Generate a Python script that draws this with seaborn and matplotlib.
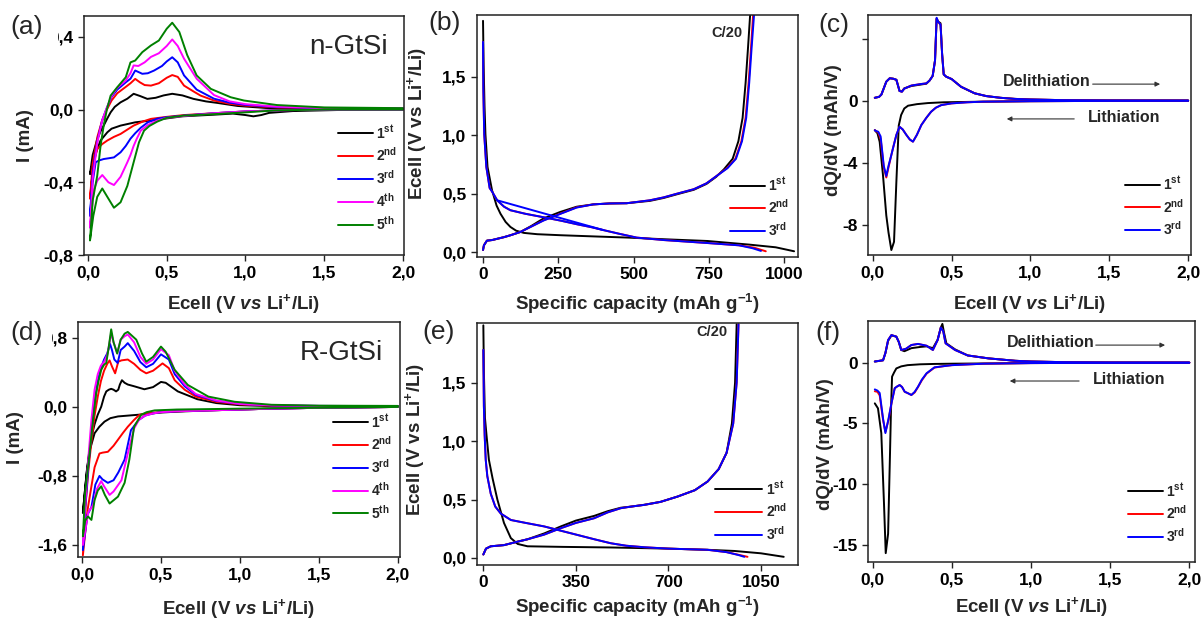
import matplotlib
matplotlib.use("Agg")
import matplotlib.pyplot as plt
from matplotlib.lines import Line2D
import seaborn as sns

# ---------------- data ----------------
# (a) CV n-GtSi : potential (V) and current (mA); cathodic scan then anodic scan
a1_v = [2.0, 1.6, 1.3, 1.15, 1.1, 1.05, 1.0, 0.92, 0.8, 0.6, 0.4, 0.3, 0.207, 0.15, 0.123, 0.08, 0.059, 0.035, 0.013,
        0.03, 0.06, 0.08, 0.10, 0.122, 0.144, 0.17, 0.207, 0.25, 0.29, 0.33, 0.377, 0.43, 0.48, 0.535, 0.6, 0.67, 0.75, 0.82, 0.95, 1.13, 1.4, 1.7, 2.0]
a1_i = [0.0, -0.002, -0.008, -0.018, -0.03, -0.037, -0.03, -0.022, -0.028, -0.037, -0.06, -0.07, -0.088, -0.105, -0.125, -0.17, -0.217, -0.28, -0.355,
        -0.25, -0.16, -0.12, -0.088, -0.05, -0.015, 0.015, 0.04, 0.06, 0.087, 0.075, 0.059, 0.065, 0.078, 0.087, 0.078, 0.059, 0.045, 0.037, 0.02, 0.009, 0.005, 0.004, 0.003]
a2_v = [2.0, 1.5, 1.2, 1.0, 0.8, 0.61, 0.5, 0.4, 0.35, 0.29, 0.25, 0.207, 0.165, 0.123, 0.09, 0.059, 0.035, 0.013,
        0.03, 0.06, 0.09, 0.12, 0.15, 0.186, 0.24, 0.27, 0.30, 0.33, 0.36, 0.40, 0.45, 0.50, 0.535, 0.57, 0.61, 0.67, 0.715, 0.8, 0.9, 1.0, 1.2, 1.5, 2.0]
a2_i = [0.0, 0.0, -0.004, -0.01, -0.02, -0.03, -0.04, -0.051, -0.065, -0.088, -0.11, -0.134, -0.15, -0.17, -0.19, -0.217, -0.3, -0.49,
        -0.3, -0.15, -0.06, 0.0, 0.05, 0.09, 0.125, 0.145, 0.169, 0.15, 0.135, 0.132, 0.145, 0.175, 0.19, 0.18, 0.132, 0.1, 0.077, 0.05, 0.032, 0.022, 0.012, 0.007, 0.005]
a3_v = [2.0, 1.5, 1.2, 1.0, 0.8, 0.61, 0.5, 0.44, 0.38, 0.335, 0.30, 0.27, 0.24, 0.207, 0.165, 0.13, 0.10, 0.07, 0.049, 0.03, 0.013,
        0.03, 0.06, 0.09, 0.12, 0.15, 0.186, 0.24, 0.27, 0.30, 0.345, 0.38, 0.42, 0.47, 0.50, 0.535, 0.57, 0.61, 0.69, 0.8, 0.9, 1.0, 1.2, 1.5, 2.0]
a3_i = [0.0, 0.0, -0.004, -0.01, -0.02, -0.033, -0.042, -0.05, -0.07, -0.1, -0.13, -0.16, -0.2, -0.235, -0.263, -0.268, -0.272, -0.28, -0.29, -0.4, -0.585,
        -0.35, -0.17, -0.06, 0.01, 0.07, 0.11, 0.15, 0.17, 0.215, 0.197, 0.2, 0.215, 0.24, 0.265, 0.288, 0.26, 0.188, 0.11, 0.06, 0.038, 0.026, 0.014, 0.008, 0.006]
a4_v = [2.0, 1.5, 1.2, 1.0, 0.8, 0.61, 0.5, 0.44, 0.38, 0.335, 0.31, 0.29, 0.27, 0.25, 0.207, 0.165, 0.13, 0.091, 0.06, 0.038, 0.013,
        0.03, 0.06, 0.09, 0.12, 0.15, 0.186, 0.24, 0.27, 0.29, 0.32, 0.36, 0.40, 0.45, 0.50, 0.535, 0.57, 0.61, 0.69, 0.8, 0.9, 1.0, 1.2, 1.5, 2.0]
a4_i = [0.0, 0.0, -0.004, -0.01, -0.02, -0.035, -0.045, -0.06, -0.085, -0.116, -0.16, -0.2, -0.25, -0.29, -0.37, -0.415, -0.4, -0.36, -0.39, -0.44, -0.65,
        -0.38, -0.18, -0.06, 0.01, 0.075, 0.12, 0.16, 0.2, 0.243, 0.24, 0.26, 0.29, 0.31, 0.35, 0.386, 0.35, 0.28, 0.17, 0.08, 0.045, 0.03, 0.016, 0.009, 0.007]
a5_v = [2.0, 1.5, 1.2, 1.0, 0.8, 0.61, 0.5, 0.44, 0.39, 0.356, 0.324, 0.29, 0.25, 0.207, 0.165, 0.123, 0.091, 0.059, 0.034, 0.013,
        0.03, 0.059, 0.08, 0.10, 0.12, 0.144, 0.186, 0.24, 0.27, 0.30, 0.345, 0.40, 0.45, 0.50, 0.535, 0.58, 0.63, 0.69, 0.78, 0.906, 0.99, 1.2, 1.5, 2.0]
a5_i = [0.0, 0.0, -0.004, -0.015, -0.025, -0.033, -0.045, -0.066, -0.09, -0.116, -0.18, -0.29, -0.42, -0.51, -0.54, -0.48, -0.434, -0.48, -0.585, -0.72,
        -0.5, -0.364, -0.2, -0.088, 0.0, 0.077, 0.123, 0.178, 0.26, 0.27, 0.316, 0.353, 0.38, 0.445, 0.478, 0.427, 0.30, 0.188, 0.114, 0.068, 0.05, 0.025, 0.012, 0.008]

# (d) CV R-GtSi
d1_v = [2.0, 1.5, 1.2, 1.0, 0.8, 0.6, 0.5, 0.36, 0.228, 0.18, 0.143, 0.11, 0.08, 0.05, 0.03, 0.006,
        0.02, 0.04, 0.06, 0.08, 0.1, 0.122, 0.14, 0.154, 0.17, 0.185, 0.2, 0.216, 0.23, 0.24, 0.253, 0.27, 0.29, 0.33, 0.395, 0.45, 0.5, 0.53, 0.607, 0.73, 0.85, 1.0, 1.2, 1.5, 2.0]
d1_i = [0.0, -0.01, -0.02, -0.03, -0.04, -0.055, -0.065, -0.09, -0.11, -0.13, -0.17, -0.23, -0.305, -0.5, -0.75, -1.23,
        -0.95, -0.6, -0.35, -0.2, -0.09, 0.003, 0.12, 0.18, 0.2, 0.21, 0.2, 0.18, 0.2, 0.26, 0.31, 0.28, 0.26, 0.24, 0.205, 0.23, 0.29, 0.28, 0.18, 0.09, 0.045, 0.02, 0.01, 0.006, 0.005]
d2_v = [2.0, 1.5, 1.2, 1.0, 0.8, 0.6, 0.5, 0.42, 0.363, 0.33, 0.29, 0.26, 0.228, 0.2, 0.164, 0.13, 0.111, 0.08, 0.06, 0.035, 0.006,
        0.02, 0.04, 0.06, 0.08, 0.1, 0.12, 0.14, 0.16, 0.175, 0.19, 0.21, 0.23, 0.25, 0.29, 0.33, 0.37, 0.407, 0.45, 0.51, 0.55, 0.587, 0.65, 0.72, 0.85, 1.0, 1.2, 1.5, 2.0]
d2_i = [0.0, -0.01, -0.02, -0.03, -0.04, -0.05, -0.06, -0.07, -0.093, -0.15, -0.23, -0.3, -0.38, -0.45, -0.52, -0.53, -0.54, -0.7, -0.92, -1.2, -1.72,
        -1.2, -0.75, -0.4, -0.1, 0.12, 0.3, 0.42, 0.5, 0.54, 0.47, 0.39, 0.525, 0.54, 0.55, 0.5, 0.43, 0.39, 0.42, 0.505, 0.45, 0.31, 0.2, 0.12, 0.06, 0.03, 0.015, 0.01, 0.008]
d3_v = [2.0, 1.5, 1.2, 1.0, 0.8, 0.6, 0.5, 0.45, 0.4, 0.36, 0.31, 0.27, 0.23, 0.2, 0.164, 0.13, 0.111, 0.085, 0.06, 0.035, 0.006,
        0.02, 0.04, 0.06, 0.08, 0.1, 0.12, 0.14, 0.16, 0.178, 0.19, 0.205, 0.226, 0.245, 0.27, 0.29, 0.33, 0.37, 0.407, 0.45, 0.5, 0.55, 0.587, 0.65, 0.72, 0.85, 1.0, 1.2, 1.5, 2.0]
d3_i = [0.0, -0.01, -0.02, -0.03, -0.04, -0.05, -0.06, -0.075, -0.1, -0.15, -0.27, -0.61, -0.76, -0.85, -0.88, -0.84, -0.8, -0.9, -1.16, -1.25, -1.66,
        -1.2, -0.7, -0.3, 0.05, 0.3, 0.45, 0.55, 0.62, 0.73, 0.66, 0.55, 0.51, 0.66, 0.7, 0.74, 0.65, 0.52, 0.46, 0.5, 0.61, 0.55, 0.38, 0.24, 0.14, 0.07, 0.035, 0.018, 0.012, 0.01]
d4_v = [2.0, 1.5, 1.2, 1.0, 0.8, 0.6, 0.5, 0.45, 0.4, 0.36, 0.33, 0.29, 0.25, 0.2, 0.175, 0.14, 0.122, 0.095, 0.07, 0.04, 0.006,
        0.02, 0.04, 0.06, 0.08, 0.1, 0.12, 0.14, 0.16, 0.185, 0.2, 0.223, 0.245, 0.27, 0.29, 0.33, 0.37, 0.407, 0.45, 0.5, 0.55, 0.587, 0.65, 0.72, 0.85, 1.0, 1.2, 1.5, 2.0]
d4_i = [0.0, -0.01, -0.02, -0.03, -0.04, -0.05, -0.06, -0.075, -0.1, -0.15, -0.25, -0.54, -0.85, -0.98, -1.02, -0.92, -0.86, -0.95, -1.14, -1.22, -1.6,
        -1.15, -0.6, -0.15, 0.2, 0.38, 0.48, 0.52, 0.6, 0.855, 0.75, 0.62, 0.78, 0.82, 0.84, 0.75, 0.58, 0.5, 0.55, 0.67, 0.6, 0.42, 0.26, 0.15, 0.075, 0.035, 0.018, 0.012, 0.01]
d5_v = [2.0, 1.5, 1.2, 1.0, 0.8, 0.6, 0.46, 0.41, 0.375, 0.33, 0.3, 0.27, 0.228, 0.175, 0.145, 0.122, 0.1, 0.08, 0.06, 0.038, 0.02, 0.006,
        0.02, 0.048, 0.07, 0.09, 0.105, 0.122, 0.14, 0.154, 0.17, 0.185, 0.2, 0.223, 0.245, 0.27, 0.29, 0.344, 0.38, 0.407, 0.45, 0.5, 0.53, 0.587, 0.67, 0.8, 0.966, 1.2, 1.5, 2.0]
d5_i = [0.0, -0.01, -0.015, -0.02, -0.025, -0.03, -0.04, -0.06, -0.09, -0.23, -0.61, -0.88, -1.04, -1.12, -1.02, -0.92, -0.97, -1.08, -1.31, -1.27, -1.32, -1.5,
        -1.0, -0.54, -0.15, 0.16, 0.3, 0.43, 0.49, 0.51, 0.7, 0.9, 0.75, 0.62, 0.78, 0.85, 0.87, 0.78, 0.62, 0.525, 0.58, 0.70, 0.64, 0.43, 0.255, 0.12, 0.06, 0.025, 0.015, 0.012]

# (b) galvanostatic n-GtSi : capacity (mAh/g) vs Ecell (V)
b1_dis_q = [0, 2, 5, 8, 15, 30, 45, 58, 75, 91, 110, 136, 180, 260, 380, 482, 600, 745, 884, 972, 1033]
b1_dis_v = [1.98, 1.6, 1.25, 1.01, 0.73, 0.53, 0.4, 0.33, 0.26, 0.217, 0.185, 0.166, 0.155, 0.146, 0.135, 0.126, 0.112, 0.097, 0.066, 0.043, 0.009]
b1_ch_q = [0, 3, 13, 30, 46, 70, 91, 124, 160, 201, 256, 311, 366, 420, 477, 554, 600, 642, 700, 742, 774, 800, 829, 848, 862, 872, 880, 887]
b1_ch_v = [0.02, 0.06, 0.10, 0.105, 0.115, 0.13, 0.146, 0.174, 0.225, 0.29, 0.345, 0.39, 0.41, 0.418, 0.42, 0.44, 0.465, 0.495, 0.535, 0.585, 0.645, 0.71, 0.8, 0.95, 1.15, 1.45, 1.75, 2.03]
b2_dis_q = [0, 1, 4, 11, 22, 30, 47, 70, 91, 140, 201, 260, 312, 360, 400, 450, 510, 600, 743, 850, 900, 939]
b2_dis_v = [1.8, 1.4, 1.01, 0.73, 0.55, 0.52, 0.445, 0.39, 0.36, 0.33, 0.3, 0.27, 0.24, 0.215, 0.19, 0.16, 0.126, 0.105, 0.08, 0.06, 0.04, 0.009]
b2_ch_q = [0, 3, 13, 30, 46, 70, 91, 124, 160, 201, 256, 311, 366, 420, 477, 554, 600, 642, 700, 742, 774, 810, 838, 858, 872, 882, 890, 897]
b2_ch_v = [0.02, 0.06, 0.10, 0.105, 0.115, 0.13, 0.146, 0.174, 0.22, 0.274, 0.33, 0.385, 0.41, 0.418, 0.42, 0.445, 0.47, 0.50, 0.54, 0.59, 0.65, 0.72, 0.8, 0.95, 1.15, 1.45, 1.75, 2.03]
b3_dis_q = [0, 1, 4, 11, 22, 30, 47, 70, 91, 140, 201, 260, 312, 360, 400, 450, 510, 600, 743, 850, 895, 923]
b3_dis_v = [1.8, 1.4, 1.01, 0.73, 0.55, 0.52, 0.445, 0.39, 0.36, 0.33, 0.3, 0.27, 0.24, 0.215, 0.19, 0.16, 0.126, 0.105, 0.08, 0.06, 0.035, 0.012]
b3_link_q = [47, 400]
b3_link_v = [0.445, 0.19]
b3_ch_q = [0, 3, 13, 30, 46, 70, 91, 124, 160, 201, 256, 311, 366, 420, 477, 554, 600, 642, 700, 742, 774, 812, 840, 860, 874, 884, 892, 900]
b3_ch_v = [0.02, 0.06, 0.10, 0.105, 0.115, 0.13, 0.146, 0.174, 0.22, 0.272, 0.328, 0.383, 0.41, 0.418, 0.42, 0.445, 0.47, 0.50, 0.54, 0.59, 0.65, 0.72, 0.8, 0.95, 1.15, 1.45, 1.75, 2.03]

# (e) galvanostatic R-GtSi
e1_dis_q = [0, 2, 6, 12, 21, 35, 53, 78, 104, 130, 167, 300, 482, 700, 848, 950, 1050, 1136]
e1_dis_v = [1.99, 1.6, 1.2, 1.05, 0.84, 0.68, 0.5, 0.3, 0.17, 0.12, 0.1, 0.095, 0.09, 0.08, 0.07, 0.06, 0.04, 0.01]
e1_ch_q = [0, 10, 28, 78, 130, 167, 230, 293, 350, 419, 470, 520, 560, 608, 670, 734, 800, 848, 890, 920, 940, 952, 958]
e1_ch_v = [0.03, 0.08, 0.1, 0.11, 0.14, 0.16, 0.21, 0.27, 0.32, 0.36, 0.4, 0.43, 0.44, 0.455, 0.48, 0.525, 0.58, 0.654, 0.76, 0.9, 1.15, 1.5, 2.0]
e2_dis_q = [0, 2, 5, 9, 15, 28, 45, 66, 104, 160, 230, 290, 356, 420, 482, 540, 608, 700, 848, 920, 970, 999]
e2_dis_v = [1.78, 1.3, 1.05, 0.84, 0.7, 0.55, 0.44, 0.38, 0.325, 0.3, 0.27, 0.235, 0.197, 0.16, 0.126, 0.105, 0.092, 0.08, 0.07, 0.05, 0.025, 0.01]
e2_ch_q = [0, 10, 28, 78, 130, 167, 230, 293, 350, 419, 470, 520, 560, 608, 670, 734, 800, 848, 890, 920, 945, 958, 965]
e2_ch_v = [0.03, 0.08, 0.1, 0.11, 0.14, 0.16, 0.2, 0.255, 0.3, 0.34, 0.39, 0.426, 0.44, 0.454, 0.48, 0.525, 0.58, 0.654, 0.76, 0.9, 1.15, 1.5, 2.0]
e3_dis_q = [0, 2, 5, 9, 15, 28, 45, 66, 104, 160, 230, 290, 356, 420, 482, 540, 608, 700, 848, 920, 965, 987]
e3_dis_v = [1.78, 1.3, 1.05, 0.84, 0.7, 0.55, 0.44, 0.38, 0.325, 0.3, 0.27, 0.235, 0.197, 0.16, 0.126, 0.105, 0.092, 0.08, 0.07, 0.05, 0.025, 0.01]
e3_ch_q = [0, 10, 28, 78, 130, 167, 230, 293, 350, 419, 470, 520, 560, 608, 670, 734, 800, 848, 890, 920, 945, 958, 965]
e3_ch_v = [0.03, 0.08, 0.1, 0.11, 0.14, 0.16, 0.2, 0.255, 0.3, 0.34, 0.39, 0.426, 0.44, 0.454, 0.48, 0.525, 0.58, 0.654, 0.76, 0.9, 1.15, 1.5, 2.0]

# (c) dQ/dV n-GtSi : Ecell (V) vs dQ/dV (mAh/V)
c1_lit_v = [2.0, 1.5, 1.0, 0.7, 0.45, 0.35, 0.28, 0.224, 0.2, 0.18, 0.165, 0.15, 0.135, 0.118, 0.1, 0.086, 0.065, 0.044, 0.03, 0.013]
c1_lit_q = [0.0, -0.01, -0.03, -0.06, -0.1, -0.15, -0.22, -0.32, -0.5, -0.92, -1.6, -5.2, -9.1, -9.63, -8.5, -7.4, -4.8, -2.65, -2.1, -1.9]
c1_del_v = [0.013, 0.04, 0.055, 0.07, 0.086, 0.108, 0.13, 0.15, 0.17, 0.185, 0.2, 0.245, 0.308, 0.34, 0.36, 0.38, 0.395, 0.405, 0.415, 0.43, 0.44, 0.45, 0.466, 0.5, 0.56, 0.646, 0.72, 0.81, 0.9, 1.0, 1.2, 1.5, 2.0]
c1_del_q = [0.19, 0.25, 0.4, 0.8, 1.23, 1.45, 1.42, 1.35, 0.63, 0.6, 0.8, 0.95, 1.05, 1.1, 1.3, 1.6, 2.6, 5.27, 5.1, 5.0, 3.0, 1.7, 1.55, 1.4, 0.9, 0.48, 0.3, 0.19, 0.12, 0.08, 0.04, 0.02, 0.01]
c2_lit_v = [2.0, 1.5, 1.0, 0.7, 0.6, 0.5, 0.435, 0.4, 0.37, 0.34, 0.308, 0.28, 0.255, 0.235, 0.213, 0.19, 0.17, 0.15, 0.13, 0.118, 0.1, 0.086, 0.07, 0.05, 0.035, 0.02, 0.013]
c2_lit_q = [0.0, -0.01, -0.03, -0.06, -0.1, -0.17, -0.28, -0.45, -0.71, -1.1, -1.57, -2.2, -2.64, -2.5, -2.2, -1.85, -1.68, -2.2, -3.0, -3.5, -4.3, -4.95, -4.3, -2.45, -2.05, -1.95, -1.9]
c2_del_v = c1_del_v
c2_del_q = [0.19, 0.25, 0.4, 0.8, 1.23, 1.45, 1.42, 1.35, 0.63, 0.58, 0.78, 0.98, 1.08, 1.12, 1.3, 1.6, 2.6, 5.3, 5.1, 4.9, 3.0, 1.7, 1.55, 1.4, 0.9, 0.48, 0.3, 0.19, 0.12, 0.08, 0.04, 0.02, 0.01]
c3_lit_v = [2.0, 1.5, 1.0, 0.7, 0.6, 0.5, 0.435, 0.4, 0.37, 0.34, 0.308, 0.28, 0.255, 0.235, 0.213, 0.19, 0.17, 0.15, 0.13, 0.118, 0.1, 0.086, 0.07, 0.05, 0.035, 0.02, 0.013]
c3_lit_q = [0.0, -0.01, -0.03, -0.06, -0.1, -0.17, -0.28, -0.45, -0.71, -1.1, -1.57, -2.2, -2.64, -2.5, -2.2, -1.85, -1.68, -2.2, -3.0, -3.5, -4.2, -4.85, -4.2, -2.3, -2.0, -1.95, -1.9]
c3_del_v = c1_del_v
c3_del_q = [0.19, 0.25, 0.4, 0.8, 1.23, 1.45, 1.42, 1.35, 0.63, 0.58, 0.78, 0.98, 1.08, 1.12, 1.3, 1.6, 2.6, 5.35, 5.1, 4.9, 3.0, 1.7, 1.55, 1.4, 0.9, 0.48, 0.3, 0.19, 0.12, 0.08, 0.04, 0.02, 0.01]

# (f) dQ/dV R-GtSi
f1_lit_v = [2.0, 1.5, 1.0, 0.7, 0.5, 0.39, 0.3, 0.22, 0.18, 0.149, 0.135, 0.122, 0.115, 0.109, 0.097, 0.082, 0.071, 0.054, 0.033, 0.013]
f1_lit_q = [0.0, -0.01, -0.03, -0.06, -0.08, -0.1, -0.13, -0.2, -0.3, -0.47, -0.8, -1.15, -4.0, -7.5, -14.1, -15.7, -11.6, -5.8, -3.76, -3.35]
f1_del_v = [0.013, 0.065, 0.08, 0.097, 0.118, 0.149, 0.165, 0.18, 0.2, 0.244, 0.3, 0.34, 0.38, 0.41, 0.43, 0.44, 0.45, 0.465, 0.52, 0.6, 0.73, 0.9, 1.0, 1.2, 1.5, 2.0]
f1_del_q = [0.1, 0.2, 0.8, 1.8, 2.25, 2.15, 1.7, 1.05, 0.95, 1.2, 1.3, 1.35, 1.2, 1.9, 2.9, 3.2, 2.5, 1.6, 1.1, 0.6, 0.36, 0.16, 0.1, 0.05, 0.02, 0.01]
f2_lit_v = [2.0, 1.5, 1.0, 0.7, 0.5, 0.45, 0.39, 0.34, 0.31, 0.286, 0.265, 0.244, 0.22, 0.202, 0.185, 0.17, 0.155, 0.139, 0.118, 0.1, 0.08, 0.065, 0.044, 0.03, 0.013]
f2_lit_q = [0.0, -0.01, -0.03, -0.08, -0.2, -0.28, -0.4, -0.9, -1.45, -2.0, -2.45, -2.66, -2.5, -2.4, -2.0, -1.84, -1.95, -2.1, -3.35, -4.7, -5.7, -4.7, -2.7, -2.4, -2.35]
f3_lit_v = f2_lit_v
f3_lit_q = [0.0, -0.01, -0.03, -0.08, -0.2, -0.28, -0.38, -0.87, -1.4, -1.98, -2.4, -2.66, -2.5, -2.39, -2.0, -1.84, -1.95, -2.1, -3.35, -4.6, -5.8, -4.6, -2.5, -2.3, -2.2]
f3_del_v = [0.013, 0.065, 0.08, 0.097, 0.118, 0.149, 0.165, 0.18, 0.21, 0.244, 0.286, 0.34, 0.38, 0.41, 0.43, 0.445, 0.46, 0.52, 0.6, 0.73, 0.9, 1.0, 1.2, 1.5, 2.0]
f3_del_q = [0.1, 0.2, 0.8, 1.87, 2.28, 2.15, 1.7, 1.05, 1.15, 1.46, 1.55, 1.4, 1.05, 1.87, 2.9, 2.6, 1.6, 1.05, 0.6, 0.36, 0.16, 0.1, 0.05, 0.02, 0.01]
f2_del_v = f3_del_v
f2_del_q = f3_del_q

# ticks / labels
cv_xticks = [0.0, 0.5, 1.0, 1.5, 2.0]
cv_xticklabels = ["0,0", "0,5", "1,0", "1,5", "2,0"]
a_yticks = [-0.8, -0.4, 0.0, 0.4]
a_yticklabels = ["-0,8", "-0,4", "0,0", "0,4"]
d_yticks = [-1.6, -0.8, 0.0, 0.8]
d_yticklabels = ["-1,6", "-0,8", "0,0", "0,8"]
gc_yticks = [0.0, 0.5, 1.0, 1.5]
gc_yticklabels = ["0,0", "0,5", "1,0", "1,5"]
b_xticks = [0, 250, 500, 750, 1000]
e_xticks = [0, 350, 700, 1050]
c_yticks = [-8, -4, 0, 4]
f_yticks = [-15, -10, -5, 0]
cycle_labels = ["1$^{st}$", "2$^{nd}$", "3$^{rd}$", "4$^{th}$", "5$^{th}$"]
colors = ["#000000", "#ff0000", "#0000ff", "#ff00ff", "#008000"]

# ---------------- style ----------------
sns.set_style("ticks")
plt.rcParams.update({
    "font.family": ["Liberation Sans", "DejaVu Sans"],
    "font.weight": "bold",
    "axes.labelweight": "bold",
    "mathtext.fontset": "custom",
    "mathtext.rm": "Liberation Sans:bold",
    "mathtext.it": "Liberation Sans:italic:bold",
    "mathtext.bf": "Liberation Sans:bold",
    "mathtext.default": "rm",
    "axes.edgecolor": "#222222",
    "axes.linewidth": 1.1,
    "xtick.major.size": 4,
    "ytick.major.size": 4,
    "xtick.major.width": 1.0,
    "ytick.major.width": 1.0,
    "xtick.direction": "out",
    "ytick.direction": "out",
    "xtick.color": "#222222",
    "ytick.color": "#222222",
    "xtick.labelcolor": "black",
    "ytick.labelcolor": "black",
})
LW = 1.4
TICK_FS = 12.5
LABEL_FS = 13.5
LEG_FS = 10

fig = plt.figure(figsize=(12.04, 6.22), dpi=100)
W, H = 1204.0, 622.0


def make_ax(x0, y0, x1, y1):
    return fig.add_axes([x0 / W, 1 - y1 / H, (x1 - x0) / W, (y1 - y0) / H])


def line(ax, x, y, color):
    sns.lineplot(x=x, y=y, sort=False, estimator=None, color=color, lw=LW, ax=ax, legend=False)


def finish(ax, xlim, ylim, xt, xtl, yt, ytl, xlabel, ylabel, ylab_x, ylab_y, xlab_y):
    ax.set_xlim(*xlim)
    ax.set_ylim(*ylim)
    ax.set_xticks(xt)
    ax.set_xticklabels(xtl, fontsize=TICK_FS, fontweight="bold")
    ax.set_yticks(yt)
    ax.set_yticklabels(ytl, fontsize=TICK_FS, fontweight="bold")
    ax.set_xlabel(xlabel, fontsize=LABEL_FS, fontweight="bold")
    ax.set_ylabel(ylabel, fontsize=LABEL_FS, fontweight="bold")
    ax.yaxis.set_label_coords(ylab_x, ylab_y)
    ax.xaxis.set_label_coords(0.5, xlab_y)
    for s in ax.spines.values():
        s.set_visible(True)


def legend(ax, n, x, y, hl=2.5):
    handles = [Line2D([], [], color=colors[k], lw=LW) for k in range(n)]
    ax.legend(handles, cycle_labels[:n], loc="center left", bbox_to_anchor=(x, y), frameon=False,
              fontsize=LEG_FS, handlelength=hl, handletextpad=0.25, labelspacing=0.35,
              borderpad=0, borderaxespad=0)


xlab_E = "Ecell (V $\\mathit{vs}$ Li$^{+}$/Li)"
ylab_E = "Ecell (V vs Li$^{+}$/Li)"
xlab_Q = "Specific capacity (mAh g$^{-1}$)"

# ---------------- (a) ----------------
ax = make_ax(84, 16, 404, 255)
for k, (v, i) in enumerate([(a1_v, a1_i), (a2_v, a2_i), (a3_v, a3_i), (a4_v, a4_i), (a5_v, a5_i)]):
    line(ax, v, i, colors[k])
finish(ax, (-0.025, 2.006), (-0.8, 0.515), cv_xticks, cv_xticklabels, a_yticks, a_yticklabels,
       xlab_E, "I (mA)", -0.156, 0.5, -0.155)
legend(ax, 5, 0.794, 0.322)
ax.text(0.95, 0.87, "n-GtSi", transform=ax.transAxes, ha="right", va="center", fontsize=20, fontweight="normal")

# ---------------- (b) ----------------
ax = make_ax(477, 15, 798, 257)
line(ax, b1_dis_q, b1_dis_v, colors[0]); line(ax, b1_ch_q, b1_ch_v, colors[0])
line(ax, b2_dis_q, b2_dis_v, colors[1]); line(ax, b2_ch_q, b2_ch_v, colors[1])
line(ax, b3_dis_q, b3_dis_v, colors[2]); line(ax, b3_ch_q, b3_ch_v, colors[2]); line(ax, b3_link_q, b3_link_v, colors[2])
finish(ax, (-20, 1046), (-0.04, 2.03), b_xticks, [str(t) for t in b_xticks], gc_yticks, gc_yticklabels,
       xlab_Q, ylab_E, -0.150, 0.55, -0.145)
legend(ax, 3, 0.788, 0.205)
ax.text(0.779, 0.926, "C/20", transform=ax.transAxes, ha="center", va="center", fontsize=10.5, fontweight="bold")

# ---------------- (c) ----------------
ax = make_ax(868, 15, 1191, 255)
line(ax, c1_lit_v, c1_lit_q, colors[0]); line(ax, c1_del_v, c1_del_q, colors[0])
line(ax, c2_lit_v, c2_lit_q, colors[1]); line(ax, c2_del_v, c2_del_q, colors[1])
line(ax, c3_lit_v, c3_lit_q, colors[2]); line(ax, c3_del_v, c3_del_q, colors[2])
finish(ax, (-0.03, 2.018), (-9.95, 5.53), cv_xticks, cv_xticklabels, c_yticks, [str(t) for t in c_yticks],
       xlab_E, "dQ/dV (mAh/V)", -0.080, 0.52, -0.153)
legend(ax, 3, 0.796, 0.202)
ax.text(0.418, 0.725, "Delithiation", transform=ax.transAxes, ha="left", va="center", fontsize=11.5, fontweight="bold")
ax.annotate("", xy=(0.913, 0.712), xytext=(0.687, 0.712), xycoords="axes fraction",
            arrowprops=dict(arrowstyle="-|>", lw=0.8, color="#333333", mutation_scale=7))
ax.text(0.681, 0.575, "Lithiation", transform=ax.transAxes, ha="left", va="center", fontsize=11.5, fontweight="bold")
ax.annotate("", xy=(0.421, 0.567), xytext=(0.647, 0.567), xycoords="axes fraction",
            arrowprops=dict(arrowstyle="-|>", lw=0.8, color="#333333", mutation_scale=7))

# ---------------- (d) ----------------
ax = make_ax(78, 322, 400, 557)
for k, (v, i) in enumerate([(d1_v, d1_i), (d2_v, d2_i), (d3_v, d3_i), (d4_v, d4_i), (d5_v, d5_i)]):
    line(ax, v, i, colors[k])
finish(ax, (-0.025, 2.013), (-1.74, 0.985), cv_xticks, cv_xticklabels, d_yticks, d_yticklabels,
       xlab_E, "I (mA)", -0.168, 0.51, -0.172)
legend(ax, 5, 0.792, 0.383)
ax.text(0.947, 0.868, "R-GtSi", transform=ax.transAxes, ha="right", va="center", fontsize=20, fontweight="normal")

# ---------------- (e) ----------------
ax = make_ax(477, 323, 798, 565)
line(ax, e1_dis_q, e1_dis_v, colors[0]); line(ax, e1_ch_q, e1_ch_v, colors[0])
line(ax, e2_dis_q, e2_dis_v, colors[1]); line(ax, e2_ch_q, e2_ch_v, colors[1])
line(ax, e3_dis_q, e3_dis_v, colors[2]); line(ax, e3_ch_q, e3_ch_v, colors[2])
finish(ax, (-24, 1190), (-0.06, 2.01), e_xticks, [str(t) for t in e_xticks], gc_yticks, gc_yticklabels,
       xlab_Q, ylab_E, -0.156, 0.517, -0.125)
legend(ax, 3, 0.741, 0.223, hl=3.4)
ax.text(0.732, 0.963, "C/20", transform=ax.transAxes, ha="center", va="center", fontsize=10.5, fontweight="bold")

# ---------------- (f) ----------------
ax = make_ax(868, 321, 1195, 562)
line(ax, f1_lit_v, f1_lit_q, colors[0]); line(ax, f1_del_v, f1_del_q, colors[0])
line(ax, f2_lit_v, f2_lit_q, colors[1]); line(ax, f2_del_v, f2_del_q, colors[1])
line(ax, f3_lit_v, f3_lit_q, colors[2]); line(ax, f3_del_v, f3_del_q, colors[2])
finish(ax, (-0.03, 2.036), (-16.43, 3.44), cv_xticks, cv_xticklabels, f_yticks, [str(t) for t in f_yticks],
       xlab_E, "dQ/dV (mAh/V)", -0.104, 0.49, -0.137)
legend(ax, 3, 0.795, 0.203)
ax.text(0.425, 0.909, "Delithiation", transform=ax.transAxes, ha="left", va="center", fontsize=11.5, fontweight="bold")
ax.annotate("", xy=(0.917, 0.90), xytext=(0.688, 0.90), xycoords="axes fraction",
            arrowprops=dict(arrowstyle="-|>", lw=0.8, color="#333333", mutation_scale=7))
ax.text(0.688, 0.759, "Lithiation", transform=ax.transAxes, ha="left", va="center", fontsize=11.5, fontweight="bold")
ax.annotate("", xy=(0.425, 0.751), xytext=(0.654, 0.751), xycoords="axes fraction",
            arrowprops=dict(arrowstyle="-|>", lw=0.8, color="#333333", mutation_scale=7))

# ---------------- panel letters ----------------
panel_letters = ["(a)", "(b)", "(c)", "(d)", "(e)", "(f)"]
letter_pos = [(10, 27, 11), (428, 23, 0), (818, 25, 7), (10, 333, 7), (422, 332, 0), (815, 333, 0)]
for txt, (px, py, pad) in zip(panel_letters, letter_pos):
    kw = dict(fontsize=19, fontweight="normal", ha="left", va="center")
    if pad:
        kw["bbox"] = dict(facecolor="white", edgecolor="none", pad=pad)
    fig.text(px / W, 1 - py / H, txt, **kw)

fig.savefig("out.png", dpi=100)
